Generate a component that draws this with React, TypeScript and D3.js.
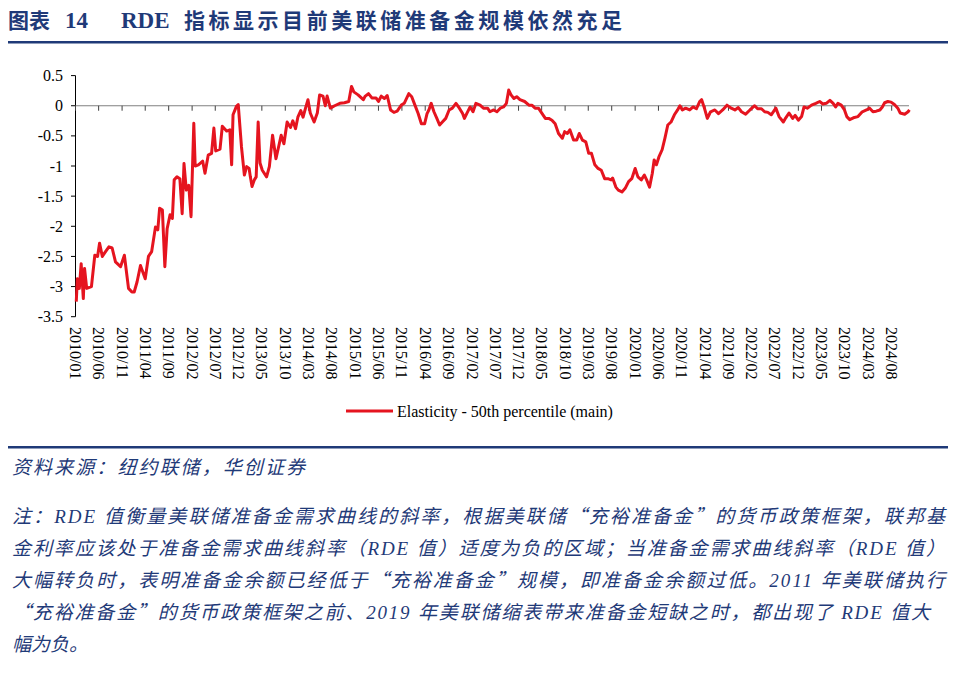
import React from 'react';
import * as d3 from 'd3';

const titleLabel = '图表';
const titleNumber = '14';
const titleLatin = 'RDE';
const titleText = '指标显示目前美联储准备金规模依然充足';
const seriesName = 'Elasticity - 50th percentile (main)';
const sourceText = '资料来源：纽约联储，华创证券';
const noteLines = [
  '注：RDE 值衡量美联储准备金需求曲线的斜率，根据美联储“充裕准备金”的货币政策框架，联邦基',
  '金利率应该处于准备金需求曲线斜率（RDE 值）适度为负的区域；当准备金需求曲线斜率（RDE 值）',
  '大幅转负时，表明准备金余额已经低于“充裕准备金”规模，即准备金余额过低。2011 年美联储执行',
  '“充裕准备金”的货币政策框架之前、2019 年美联储缩表带来准备金短缺之时，都出现了 RDE 值大',
  '幅为负。',
];

const yTicks = [0.5, 0, -0.5, -1, -1.5, -2, -2.5, -3, -3.5];
const xTickLabels = [
  '2010/01', '2010/06', '2010/11', '2011/04', '2011/09', '2012/02', '2012/07', '2012/12', '2013/05',
  '2013/10', '2014/03', '2014/08', '2015/01', '2015/06', '2015/11', '2016/04', '2016/09', '2017/02',
  '2017/07', '2017/12', '2018/05', '2018/10', '2019/03', '2019/08', '2020/01', '2020/06', '2020/11',
  '2021/04', '2021/09', '2022/02', '2022/07', '2022/12', '2023/05', '2023/10', '2024/03', '2024/08',
];

const obsDates = [
  '2010-01-06', '2010-01-13', '2010-01-26', '2010-02-07', '2010-02-21', '2010-03-01', '2010-03-15', '2010-04-15',
  '2010-05-07', '2010-05-25', '2010-06-07', '2010-06-25', '2010-07-16', '2010-08-07', '2010-08-28', '2010-09-19',
  '2010-10-22', '2010-11-16', '2010-12-13', '2011-01-04', '2011-01-19', '2011-02-07', '2011-03-01', '2011-04-01',
  '2011-04-22', '2011-05-13', '2011-06-07', '2011-06-22', '2011-07-04', '2011-07-22', '2011-08-07', '2011-08-22',
  '2011-09-10', '2011-09-25', '2011-10-07', '2011-10-25', '2011-11-13', '2011-11-28', '2011-12-10', '2011-12-25',
  '2012-01-10', '2012-01-25', '2012-02-12', '2012-02-21', '2012-03-13', '2012-04-10', '2012-04-25', '2012-05-16',
  '2012-06-07', '2012-06-22', '2012-07-04', '2012-08-01', '2012-08-16', '2012-09-13', '2012-10-04', '2012-10-16',
  '2012-10-25', '2012-11-16', '2012-11-28', '2012-12-19', '2013-01-07', '2013-01-22', '2013-02-07', '2013-02-15',
  '2013-02-26', '2013-03-13', '2013-03-25', '2013-04-07', '2013-04-19', '2013-05-04', '2013-06-01', '2013-06-19',
  '2013-07-10', '2013-08-01', '2013-08-16', '2013-09-04', '2013-09-22', '2013-10-13', '2013-11-04', '2013-11-19',
  '2013-12-07', '2013-12-22', '2014-01-10', '2014-01-25', '2014-02-10', '2014-02-26', '2014-03-13', '2014-04-07',
  '2014-04-28', '2014-05-13', '2014-06-04', '2014-06-19', '2014-07-01', '2014-07-22', '2014-08-19', '2014-09-22',
  '2014-10-22', '2014-11-19', '2014-12-07', '2014-12-22', '2015-01-19', '2015-02-22', '2015-03-07', '2015-03-28',
  '2015-04-19', '2015-05-16', '2015-06-01', '2015-06-19', '2015-07-10', '2015-07-28', '2015-08-19', '2015-09-10',
  '2015-10-01', '2015-10-28', '2015-11-16', '2015-12-16', '2016-01-04', '2016-01-25', '2016-02-15', '2016-03-07',
  '2016-03-28', '2016-04-13', '2016-04-25', '2016-05-10', '2016-05-28', '2016-06-16', '2016-07-04', '2016-07-22',
  '2016-08-13', '2016-09-04', '2016-09-25', '2016-10-19', '2016-11-10', '2016-12-01', '2016-12-13', '2016-12-28',
  '2017-01-19', '2017-02-07', '2017-02-26', '2017-03-25', '2017-04-16', '2017-05-13', '2017-05-28', '2017-06-22',
  '2017-07-13', '2017-08-04', '2017-08-25', '2017-09-13', '2017-09-28', '2017-10-13', '2017-11-01', '2017-11-19',
  '2017-12-10', '2018-01-10', '2018-02-07', '2018-02-26', '2018-03-19', '2018-04-10', '2018-05-04', '2018-05-25',
  '2018-06-16', '2018-07-07', '2018-07-28', '2018-08-19', '2018-09-13', '2018-09-28', '2018-10-16', '2018-11-01',
  '2018-11-25', '2018-12-16', '2019-01-01', '2019-01-22', '2019-02-13', '2019-03-04', '2019-03-22', '2019-04-13',
  '2019-05-04', '2019-05-25', '2019-06-16', '2019-07-07', '2019-07-28', '2019-08-07', '2019-08-28', '2019-09-13',
  '2019-10-07', '2019-10-28', '2019-11-19', '2019-12-10', '2020-01-01', '2020-01-19', '2020-02-10', '2020-03-01',
  '2020-03-16', '2020-04-04', '2020-04-22', '2020-05-04', '2020-05-19', '2020-06-04', '2020-06-25', '2020-07-13',
  '2020-08-01', '2020-08-22', '2020-09-13', '2020-10-04', '2020-10-19', '2020-11-04', '2020-11-25', '2020-12-22',
  '2021-01-13', '2021-02-04', '2021-02-25', '2021-03-10', '2021-03-28', '2021-04-16', '2021-05-07', '2021-06-04',
  '2021-06-28', '2021-07-25', '2021-08-22', '2021-09-19', '2021-10-13', '2021-11-04', '2021-11-25', '2021-12-22',
  '2022-01-19', '2022-02-19', '2022-03-10', '2022-04-04', '2022-04-25', '2022-05-16', '2022-06-07', '2022-07-07',
  '2022-07-28', '2022-08-25', '2022-09-10', '2022-10-01', '2022-10-25', '2022-11-10', '2022-12-01', '2022-12-22',
  '2023-01-07', '2023-01-28', '2023-02-25', '2023-03-25', '2023-04-19', '2023-05-10', '2023-06-01', '2023-06-25',
  '2023-07-16', '2023-08-01', '2023-08-16', '2023-09-07', '2023-09-28', '2023-10-13', '2023-11-01', '2023-11-25',
  '2023-12-25', '2024-01-22', '2024-02-19', '2024-03-10', '2024-04-01', '2024-04-22', '2024-05-16', '2024-06-01',
  '2024-06-16', '2024-07-07', '2024-07-28', '2024-08-19', '2024-09-10', '2024-09-25', '2024-10-25', '2024-11-16',
  '2024-11-25',
];

const rdeValues = [
  -3.25, -2.87, -3.03, -2.62, -3.20, -2.70, -3.03, -3.00,
  -2.48, -2.50, -2.28, -2.50, -2.42, -2.34, -2.36, -2.59,
  -2.67, -2.48, -3.03, -3.09, -3.09, -2.92, -2.65, -2.87,
  -2.50, -2.42, -2.01, -2.06, -1.70, -1.73, -2.67, -2.04,
  -1.81, -1.87, -1.23, -1.18, -1.21, -1.79, -0.96, -1.40,
  -1.32, -1.84, -0.29, -1.00, -0.98, -0.92, -1.12, -0.82,
  -0.79, -0.37, -0.75, -0.72, -0.34, -0.42, -0.40, -0.98,
  -0.15, -0.01, 0.02, -0.68, -1.15, -1.01, -1.04, -1.18,
  -1.34, -1.23, -1.18, -0.27, -0.95, -1.07, -1.18, -1.01,
  -0.49, -0.88, -0.71, -0.49, -0.63, -0.27, -0.36, -0.25,
  -0.38, -0.19, -0.08, -0.19, -0.04, 0.10, -0.12, -0.27,
  -0.12, 0.18, 0.16, 0.00, 0.16, -0.04, 0.00, 0.04,
  0.05, 0.07, 0.32, 0.23, 0.18, 0.10, 0.16, 0.20,
  0.13, 0.13, 0.07, 0.16, 0.12, 0.17, -0.07, -0.11,
  -0.09, 0.01, 0.04, 0.20, 0.15, 0.01, -0.13, -0.30,
  -0.30, -0.13, -0.07, 0.04, -0.10, -0.21, -0.32, -0.27,
  -0.21, -0.07, -0.04, 0.04, -0.04, -0.13, -0.21, -0.13,
  -0.02, -0.10, 0.04, 0.01, -0.04, -0.04, -0.10, -0.07,
  -0.10, -0.04, -0.02, 0.04, 0.26, 0.18, 0.12, 0.15,
  0.10, 0.07, 0.01, 0.01, -0.04, -0.04, -0.13, -0.21,
  -0.21, -0.24, -0.30, -0.46, -0.54, -0.43, -0.46, -0.40,
  -0.57, -0.57, -0.46, -0.57, -0.60, -0.79, -0.79, -0.98,
  -1.04, -1.07, -1.21, -1.21, -1.23, -1.20, -1.35, -1.40,
  -1.43, -1.37, -1.26, -1.21, -1.04, -1.18, -1.23, -1.15,
  -1.23, -1.35, -1.12, -0.90, -0.98, -0.85, -0.73, -0.54,
  -0.32, -0.27, -0.15, -0.07, 0.00, -0.07, -0.04, -0.07,
  -0.02, -0.05, 0.07, 0.10, -0.04, -0.21, -0.10, -0.07,
  -0.13, -0.07, 0.01, -0.04, -0.07, -0.03, -0.10, -0.14,
  -0.07, 0.00, -0.05, -0.05, -0.10, -0.11, -0.15, -0.04,
  -0.18, -0.27, -0.20, -0.12, -0.21, -0.16, -0.24, -0.18,
  -0.02, -0.04, 0.01, 0.04, 0.07, 0.03, 0.04, 0.09,
  0.04, -0.02, 0.04, 0.01, -0.07, -0.18, -0.23, -0.20,
  -0.18, -0.10, -0.07, -0.04, -0.10, -0.09, -0.07, -0.02,
  0.05, 0.07, 0.06, 0.02, -0.04, -0.12, -0.14, -0.10,
  -0.07,
];

const NAVY = '#1f3a78';
const RED = '#e5141f';
const SERIF = '"Liberation Serif", "Times New Roman", serif';
const CJK = '"Liberation Serif", "Noto Sans CJK SC", sans-serif';
const CJK_ONLY = '"Noto Sans CJK SC", sans-serif';

// Render a string with curly quotes taken from the CJK font (full-width)
function withCjkQuotes(s: string) {
  const parts = s.split(/([“”])/);
  return parts.map((p, i) =>
    p === '“' || p === '”' ? (
      <tspan key={i} fontFamily={CJK_ONLY}>{p}</tspan>
    ) : (
      <tspan key={i}>{p}</tspan>
    )
  );
}

export default function App() {
  const parse = d3.timeParse('%Y-%m-%d');
  const parseTick = d3.timeParse('%Y/%m');
  const data = obsDates.map((d, i) => ({ date: parse(d) as Date, value: rdeValues[i] }));

  const x = d3
    .scaleTime()
    .domain([new Date(2010, 0, 1), new Date(2024, 10, 22)])
    .range([75.5, 909]);
  const y = d3.scaleLinear().domain([-3.5, 0.5]).range([316.7, 75.6]);

  const line = d3
    .line<{ date: Date; value: number }>()
    .x((d) => x(d.date))
    .y((d) => y(d.value))
    .curve(d3.curveLinear);

  const y0 = y(0);
  const labelTop = 327;

  const noteY = [523, 555, 587, 619, 651];
  const noteX = [12, 12, 12, 12, 12];
  const noteLen: (number | undefined)[] = [933, 933, 933, 918, undefined];

  return (
    <svg
      width={960}
      height={688}
      style={{ position: 'absolute', left: 0, top: 0, background: '#fff' }}
    >
      <rect x={0} y={0} width={960} height={688} fill="#fff" />
      {/* Title */}
      <g fill={NAVY} fontWeight={700}>
        <text x={8} y={28} fontFamily={CJK} fontSize={21}>{titleLabel}</text>
        <text x={65} y={28} fontFamily={SERIF} fontSize={23}>{titleNumber}</text>
        <text x={121} y={28} fontFamily={SERIF} fontSize={23}>{titleLatin}</text>
        <text x={184} y={28} fontFamily={CJK} fontSize={21} textLength={438} lengthAdjust="spacing">
          {titleText}
        </text>
      </g>
      <rect x={8} y={41} width={940} height={2.5} fill={NAVY} />

      {/* Y axis */}
      <line x1={75.5} x2={75.5} y1={y(0.5)} y2={y(-3.5)} stroke="#000" strokeWidth={1} />
      {yTicks.map((t) => (
        <g key={t}>
          <line x1={71} x2={75.5} y1={y(t)} y2={y(t)} stroke="#000" strokeWidth={1} />
          <text
            x={63}
            y={y(t)}
            textAnchor="end"
            dominantBaseline="central"
            fontFamily={SERIF}
            fontSize={16}
            fill="#000"
          >
            {String(t)}
          </text>
        </g>
      ))}

      {/* Zero axis line with ticks */}
      <line x1={75.5} x2={909} y1={y0} y2={y0} stroke="#808080" strokeWidth={1.2} />
      {xTickLabels.map((lab) => {
        const px = x(parseTick(lab) as Date);
        return (
          <g key={lab}>
            <line x1={px} x2={px} y1={y0} y2={y0 + 5} stroke="#404040" strokeWidth={1} />
            <text
              transform={`translate(${px},${labelTop}) rotate(90)`}
              textAnchor="start"
              dominantBaseline="central"
              fontFamily={SERIF}
              fontSize={16}
              fill="#000"
            >
              {lab}
            </text>
          </g>
        );
      })}

      {/* Series */}
      <path d={line(data) || ''} fill="none" stroke={RED} strokeWidth={3} strokeLinejoin="round" />

      {/* Legend */}
      <line x1={346} x2={393} y1={411} y2={411} stroke={RED} strokeWidth={3} />
      <text x={397} y={411} dominantBaseline="central" fontFamily={SERIF} fontSize={16} fill="#000">
        {seriesName}
      </text>

      {/* Footer */}
      <rect x={8} y={446} width={940} height={2.5} fill={NAVY} />
      <g fill={NAVY} fontFamily={CJK} fontStyle="italic" fontSize={19}>
        <text x={12} y={474} textLength={293} lengthAdjust="spacing">{sourceText}</text>
        {noteLines.map((ln, i) => (
          <text
            key={i}
            x={noteX[i]}
            y={noteY[i]}
            textLength={noteLen[i]}
            lengthAdjust="spacing"
          >
            {withCjkQuotes(ln)}
          </text>
        ))}
      </g>
    </svg>
  );
}
